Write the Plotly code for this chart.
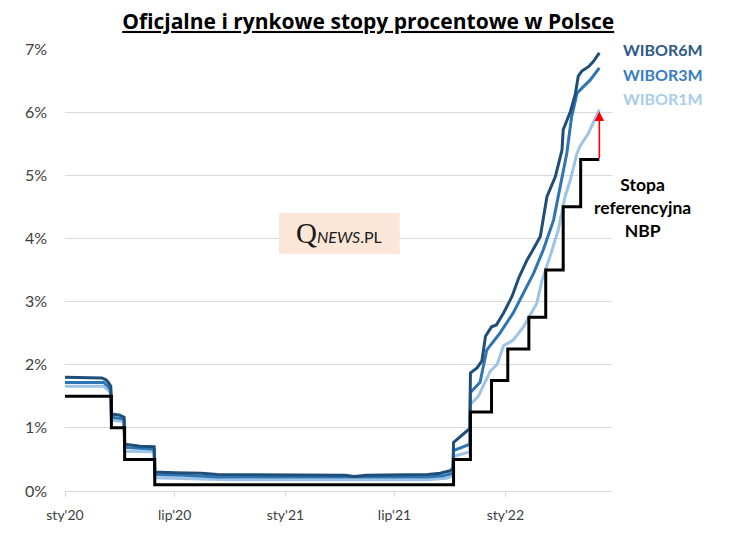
import plotly.graph_objects as go

# NBP reference rate (step changes)
nbp_dates = ["2020-01-01", "2020-03-18", "2020-04-09", "2020-05-29", "2021-10-07",
             "2021-11-04", "2021-12-09", "2022-01-05", "2022-02-09", "2022-03-09",
             "2022-04-07", "2022-05-06", "2022-06-06"]
nbp_vals = [1.5, 1.0, 0.5, 0.1, 0.5, 1.25, 1.75, 2.25, 2.75, 3.5, 4.5, 5.25, 5.25]

w6_dates = ["2020-01-01", "2020-02-20", "2020-03-02", "2020-03-09", "2020-03-13", "2020-03-17",
            "2020-03-18", "2020-04-01", "2020-04-08", "2020-04-09", "2020-05-05", "2020-05-28",
            "2020-05-29", "2020-07-01", "2020-08-15", "2020-09-10", "2020-12-31", "2021-04-10",
            "2021-04-25", "2021-05-15", "2021-08-25", "2021-09-15", "2021-10-01", "2021-10-06",
            "2021-10-07", "2021-10-20", "2021-11-03", "2021-11-04", "2021-11-15", "2021-11-23",
            "2021-11-29", "2021-12-09", "2021-12-17", "2021-12-29", "2022-01-12", "2022-01-23",
            "2022-02-06", "2022-02-14", "2022-02-28", "2022-03-11", "2022-03-25", "2022-04-05",
            "2022-04-07", "2022-04-19", "2022-04-27", "2022-05-02", "2022-05-08", "2022-05-19",
            "2022-05-27", "2022-06-06"]
w6_vals = [1.80, 1.80, 1.79, 1.76, 1.72, 1.66,
           1.22, 1.20, 1.17, 0.74, 0.71, 0.70,
           0.30, 0.29, 0.28, 0.26, 0.25, 0.25,
           0.23, 0.25, 0.26, 0.28, 0.32, 0.36,
           0.77, 0.88, 0.99, 1.87, 1.95, 2.06,
           2.45, 2.60, 2.63, 2.82, 3.08, 3.37,
           3.66, 3.79, 4.03, 4.66, 4.98, 5.40,
           5.72, 6.01, 6.28, 6.57, 6.65, 6.72,
           6.80, 6.94]

w3_dates = ["2020-01-01", "2020-03-05", "2020-03-12", "2020-03-17", "2020-03-18", "2020-04-08",
            "2020-04-09", "2020-05-28", "2020-05-29", "2020-07-15", "2020-09-10", "2021-08-25",
            "2021-09-20", "2021-10-06", "2021-10-07", "2021-11-03", "2021-11-04", "2021-11-20",
            "2021-12-01", "2021-12-23", "2022-01-14", "2022-01-31", "2022-02-17", "2022-03-05",
            "2022-03-22", "2022-04-02", "2022-04-13", "2022-04-21", "2022-04-30", "2022-05-08",
            "2022-05-22", "2022-06-06"]
w3_vals = [1.72, 1.72, 1.66, 1.60, 1.17, 1.14,
           0.69, 0.66, 0.26, 0.25, 0.22, 0.22,
           0.24, 0.28, 0.64, 0.74, 1.56, 1.72,
           2.23, 2.50, 2.82, 3.13, 3.45, 3.82,
           4.29, 4.82, 5.35, 5.93, 6.30, 6.38,
           6.51, 6.70]

w1_dates = ["2020-01-01", "2020-03-05", "2020-03-12", "2020-03-17", "2020-03-18", "2020-04-08",
            "2020-04-09", "2020-05-28", "2020-05-29", "2020-08-01", "2020-10-01", "2021-08-25",
            "2021-09-25", "2021-10-06", "2021-10-07", "2021-11-03", "2021-11-04", "2021-11-17",
            "2021-12-07", "2021-12-18", "2021-12-29", "2022-01-14", "2022-01-31", "2022-02-22",
            "2022-03-03", "2022-03-16", "2022-03-30", "2022-04-10", "2022-04-19", "2022-04-30",
            "2022-05-05", "2022-05-19", "2022-06-06"]
w1_vals = [1.66, 1.66, 1.60, 1.55, 1.12, 1.10,
           0.63, 0.62, 0.21, 0.19, 0.18, 0.18,
           0.20, 0.24, 0.55, 0.62, 1.37, 1.50,
           1.90, 2.00, 2.30, 2.39, 2.60, 2.97,
           3.34, 3.71, 4.14, 4.66, 4.93, 5.35,
           5.46, 5.67, 6.04]

tick_dates = ["2020-01-01", "2020-07-01", "2021-01-01", "2021-07-01", "2022-01-01"]
tick_labels = ["sty'20", "lip'20", "sty'21", "lip'21", "sty'22"]
y_ticks = [0, 1, 2, 3, 4, 5, 6, 7]
y_labels = ["0%", "1%", "2%", "3%", "4%", "5%", "6%", "7%"]

C6, C3, C1 = "#1F4E79", "#2E75B6", "#9DC3E6"
FONT = "Lato"

fig = go.Figure()
fig.add_trace(go.Scatter(x=w1_dates, y=w1_vals, mode="lines", line=dict(color=C1, width=3), name="WIBOR1M"))
fig.add_trace(go.Scatter(x=w3_dates, y=w3_vals, mode="lines", line=dict(color=C3, width=3), name="WIBOR3M"))
fig.add_trace(go.Scatter(x=w6_dates, y=w6_vals, mode="lines", line=dict(color=C6, width=3), name="WIBOR6M"))
fig.add_trace(go.Scatter(x=nbp_dates, y=nbp_vals, mode="lines", line=dict(color="black", width=3, shape="hv"),
                         name="NBP"))

# red arrow from reference rate to WIBOR1M
fig.add_annotation(x=nbp_dates[-1], y=w1_vals[-1] - 0.03, ax=nbp_dates[-1], ay=nbp_vals[-1],
                   xref="x", yref="y", axref="x", ayref="y", showarrow=True,
                   arrowhead=2, arrowsize=1.2, arrowwidth=1.6, arrowcolor="#FF0000", text="")

# labels
fig.add_annotation(x=1.017, y=7.0, xref="paper", yref="y", xanchor="left", yanchor="middle",
                   text="<b>WIBOR6M</b>", showarrow=False, font=dict(family=FONT, size=16, color="#2F5A85"))
fig.add_annotation(x=1.017, y=6.59, xref="paper", yref="y", xanchor="left", yanchor="middle",
                   text="<b>WIBOR3M</b>", showarrow=False, font=dict(family=FONT, size=16, color="#3A7CC0"))
fig.add_annotation(x=1.017, y=6.22, xref="paper", yref="y", xanchor="left", yanchor="middle",
                   text="<b>WIBOR1M</b>", showarrow=False, font=dict(family=FONT, size=16, color="#A9CCEC"))
fig.add_annotation(x=1.056, y=4.485, xref="paper", yref="y", xanchor="center", yanchor="middle",
                   text="<b>Stopa<br>referencyjna<br>NBP</b>", showarrow=False,
                   font=dict(family=FONT, size=17.5, color="black"))

# watermark
fig.add_shape(type="rect", xref="paper", yref="paper", x0=0.391, x1=0.612, y0=0.536, y1=0.629,
              fillcolor="#FCE6D8", line=dict(width=0), layer="above")
fig.add_annotation(x=0.5015, y=0.583, xref="paper", yref="paper", showarrow=False,
                   text="<span style='font-family:Liberation Serif;font-size:29px'>Q</span>"
                        "<i>NEWS</i>.PL",
                   font=dict(family=FONT, size=16, color="#1A1A1A"))

fig.update_layout(
    width=732, height=540,
    margin=dict(l=65, r=120, t=49, b=49),
    paper_bgcolor="white", plot_bgcolor="white",
    showlegend=False,
    title=dict(text="<b><u>Oficjalne i rynkowe stopy procentowe w Polsce</u></b>",
               x=0.503, xanchor="center", y=0.96, yanchor="middle",
               font=dict(family="Open Sans", size=21, color="black")),
    font=dict(family=FONT, color="#595959"),
)
fig.update_xaxes(range=["2020-01-01", "2022-06-27"], tickvals=tick_dates, ticktext=tick_labels,
                 showgrid=False, showline=True, linecolor="#D9D9D9", linewidth=1,
                 ticks="outside", ticklen=5, tickcolor="#D9D9D9", ticklabelstandoff=6,
                 tickfont=dict(family=FONT, size=14, color="#404040"), zeroline=False)
fig.update_yaxes(range=[0, 7], tickvals=y_ticks, ticktext=y_labels,
                 showgrid=True, gridcolor="#D9D9D9", gridwidth=1, zeroline=False,
                 showline=False, ticks="", ticklabelstandoff=17,
                 tickfont=dict(family=FONT, size=16, color="#404040"))

fig.write_html("out.html")
